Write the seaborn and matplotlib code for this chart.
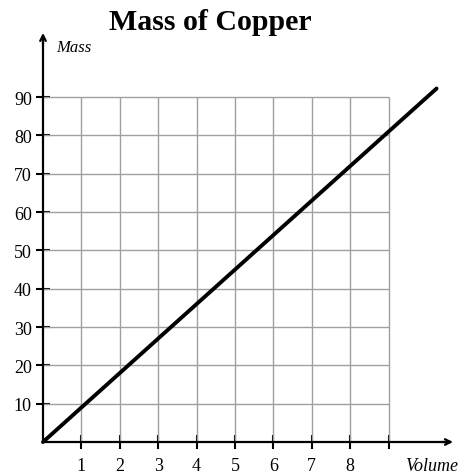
import numpy as np
import pandas as pd
import matplotlib.pyplot as plt
import seaborn as sns

# data
volume = [0, 10.25]
mass = [0, 92.25]
x_ticks = [1, 2, 3, 4, 5, 6, 7, 8, 9]
x_labels = ['1', '2', '3', '4', '5', '6', '7', '8', '']
y_ticks = [10, 20, 30, 40, 50, 60, 70, 80, 90]
y_labels = ['10', '20', '30', '40', '50', '60', '70', '80', '90']

df = pd.DataFrame({'Volume': volume, 'Mass': mass})

sns.set_style('white')
plt.rcParams['font.family'] = ['Liberation Serif', 'DejaVu Serif']
plt.rcParams['text.color'] = 'black'

fig = plt.figure(figsize=(4.6, 4.77), dpi=100)
ax = fig.add_axes([43 / 460, 34 / 477, 407 / 460, 405 / 477])

# grid only inside 0..9 x 0..90
ax.vlines(x_ticks, 0, 90, color='#a0a0a0', lw=1.0, zorder=1)
ax.hlines(y_ticks, 0, 9, color='#a0a0a0', lw=1.0, zorder=1)

sns.lineplot(data=df, x='Volume', y='Mass', color='black', lw=2.8,
             ax=ax, zorder=3, clip_on=False)

ax.set_xlim(0, 10.6)
ax.set_ylim(0, 105.7)
for s in ['top', 'right']:
    ax.spines[s].set_visible(False)
for s in ['left', 'bottom']:
    ax.spines[s].set_linewidth(1.6)
    ax.spines[s].set_color('black')

# arrow heads
ax.annotate('', xy=(10.75, 0), xytext=(10.3, 0),
            arrowprops=dict(arrowstyle='->', lw=1.6, color='black'),
            annotation_clip=False)
ax.annotate('', xy=(0, 107.5), xytext=(0, 103),
            arrowprops=dict(arrowstyle='->', lw=1.6, color='black'),
            annotation_clip=False)

ax.set_xticks(x_ticks)
ax.set_xticklabels(x_labels)
ax.set_yticks(y_ticks)
ax.set_yticklabels(y_labels)
ax.tick_params(bottom=True, left=True, direction='inout', length=10,
               width=1.5, labelsize=13, color='black', labelcolor='black')
ax.tick_params(axis='x', pad=6)
ax.tick_params(axis='y', pad=3)
ax.set_xlabel('')
ax.set_ylabel('')

ax.text(10.8, -6.2, 'Volume', style='italic', fontsize=13, ha='right',
        va='center', color='black')
ax.text(0.35, 103, 'Mass', style='italic', fontsize=12, ha='left',
        va='center', color='black')

fig.text(0.457, 0.953, 'Mass of Copper', fontsize=21.5, fontweight='bold',
         ha='center', va='center', color='black')

plt.savefig('out.png', dpi=100)
